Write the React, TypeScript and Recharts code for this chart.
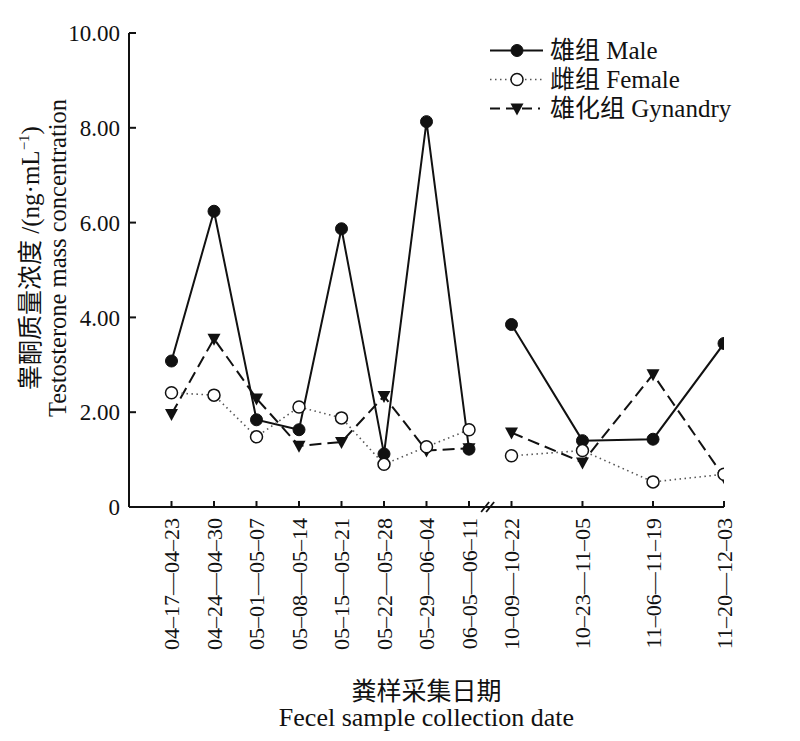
import React from 'react';
import { LineChart, Line, XAxis, YAxis, Legend, ReferenceDot } from 'recharts';

const FONT = "'Liberation Serif', 'Times New Roman', 'Noto Sans CJK SC', serif";
const INK = '#111';

// Categories (sample collection periods)
const categories = [
  '04–17—04–23', '04–24—04–30', '05–01—05–07', '05–08—05–14',
  '05–15—05–21', '05–22—05–28', '05–29—06–04', '06–05—06–11',
  '10–09—10–22', '10–23—11–05', '11–06—11–19', '11–20—12–03',
];
// Position of each period on the (broken) time axis
const xValues = [1, 2, 3, 4, 5, 6, 7, 8, 9, 10.67, 12.33, 14];
const firstPeriodCount = 8;
const axisBreakAt = 8.45;

// Testosterone mass concentration (ng·mL⁻¹)
const maleValues = [3.08, 6.24, 1.84, 1.63, 5.87, 1.12, 8.13, 1.22, 3.85, 1.40, 1.43, 3.45];
const femaleValues = [2.41, 2.36, 1.48, 2.11, 1.88, 0.90, 1.27, 1.63, 1.08, 1.19, 0.53, 0.69];
const gynandryValues = [1.96, 3.55, 2.29, 1.29, 1.37, 2.34, 1.19, 1.24, 1.57, 0.94, 2.80, 0.63];

const yTicks = [0, 2, 4, 6, 8, 10];
const seriesNames = ['雄组 Male', '雌组 Female', '雄化组 Gynandry'];

const rows = categories.map((label, i) => ({
  x: xValues[i],
  label,
  male: maleValues[i],
  female: femaleValues[i],
  gynandry: gynandryValues[i],
}));
const firstSegment = rows.slice(0, firstPeriodCount);
const secondSegment = rows.slice(firstPeriodCount);

const styles = {
  male: { stroke: INK, strokeWidth: 2, dash: undefined as string | undefined },
  female: { stroke: '#555', strokeWidth: 1.6, dash: '1.5 3.5' },
  gynandry: { stroke: INK, strokeWidth: 2, dash: '12 6' },
};

const MarkerShape = ({ kind, cx, cy }: { kind: string; cx: number; cy: number }) => {
  if (kind === 'male') return <circle cx={cx} cy={cy} r={6} fill={INK} stroke={INK} strokeWidth={1} />;
  if (kind === 'female') return <circle cx={cx} cy={cy} r={6} fill="#fff" stroke={INK} strokeWidth={1.5} />;
  return <path d={`M${cx - 6.5},${cy - 5} L${cx + 6.5},${cy - 5} L${cx},${cy + 7} Z`} fill={INK} />;
};

const makeDot = (kind: string) => (props: any) => {
  const { cx, cy, index } = props;
  if (cx == null || cy == null) return <g key={`${kind}-${index}`} />;
  return (
    <g key={`${kind}-${index}`}>
      <MarkerShape kind={kind} cx={cx} cy={cy} />
    </g>
  );
};

const XTick = (props: any) => {
  const { x, y, payload } = props;
  const idx = xValues.indexOf(payload.value);
  const label = categories[idx] ?? '';
  return (
    <g transform={`translate(${x},${y}) rotate(-90)`}>
      <text x={0} y={0} dy="0.36em" textAnchor="end" fontSize={22} fill={INK} fontFamily={FONT}>
        {label}
      </text>
    </g>
  );
};

const YLabel = (props: any) => {
  const vb = props.viewBox || { x: 0, y: 25, width: 121, height: 474 };
  const cy = vb.y + vb.height / 2 - 12;
  const x1 = vb.x + 22;
  const x2 = vb.x + 49;
  return (
    <g fontFamily={FONT} fill={INK}>
      <text transform={`translate(${x1},${cy}) rotate(-90)`} textAnchor="middle" dy="0.35em" fontSize={25}>
        睾酮质量浓度 /(ng·mL
        <tspan fontSize={15} dy={-10}>−1</tspan>
        <tspan dy={10}>)</tspan>
      </text>
      <text transform={`translate(${x2},${cy}) rotate(-90)`} textAnchor="middle" dy="0.35em" fontSize={24.5}>
        Testosterone mass concentration
      </text>
    </g>
  );
};

const XLabel = (props: any) => {
  const vb = props.viewBox || { x: 121, y: 499, width: 595, height: 226 };
  const cx = vb.x + vb.width / 2;
  return (
    <g fontFamily={FONT} fill={INK}>
      <text x={cx} y={vb.y + 193} textAnchor="middle" fontSize={25}>粪样采集日期</text>
      <text x={cx} y={vb.y + 219} textAnchor="middle" fontSize={26}>Fecel sample collection date</text>
    </g>
  );
};

const BreakMark = (props: any) => {
  const { cx, cy } = props;
  if (cx == null || cy == null) return <g />;
  return (
    <g stroke={INK} strokeWidth={1.8}>
      <line x1={cx - 7} y1={cy + 5} x2={cx + 1} y2={cy - 5} />
      <line x1={cx - 2} y1={cy + 5} x2={cx + 6} y2={cy - 5} />
    </g>
  );
};

const legendKinds = ['male', 'female', 'gynandry'];

const LegendContent = () => (
  <div style={{ fontFamily: FONT, fontSize: 25, color: INK }}>
    {seriesNames.map((name, i) => {
      const kind = legendKinds[i];
      const st = (styles as any)[kind];
      return (
        <div key={name} style={{ display: 'flex', alignItems: 'center', height: 29, whiteSpace: 'nowrap' }}>
          <svg width={58} height={29} style={{ display: 'block' }}>
            <line x1={2} y1={14.5} x2={i === 2 ? 52 : 55} y2={14.5} stroke={st.stroke} strokeWidth={st.strokeWidth} strokeDasharray={i === 2 ? '10 6' : st.dash} />
            <MarkerShape kind={kind} cx={29} cy={14.5} />
          </svg>
          <span style={{ marginLeft: 4, lineHeight: '29px' }}>{name}</span>
        </div>
      );
    })}
  </div>
);

export default function App() {
  const lineProps = (kind: 'male' | 'female' | 'gynandry', data: any[], seg: number) => ({
    data,
    dataKey: kind,
    type: 'linear' as const,
    stroke: styles[kind].stroke,
    strokeWidth: styles[kind].strokeWidth,
    strokeDasharray: styles[kind].dash,
    dot: makeDot(`${kind}${seg}`.replace(/\d$/, '') === kind ? kind : kind),
    activeDot: false,
    isAnimationActive: false,
    legendType: 'none' as const,
  });

  return (
    <div style={{ width: 784, height: 725 }}>
      <LineChart width={784} height={725} margin={{ top: 25, right: 68, bottom: 0, left: 0 }} data={rows}>
        <XAxis
          dataKey="x"
          type="number"
          domain={[0, 14]}
          ticks={xValues}
          interval={0}
          allowDataOverflow
          height={226}
          tickSize={-6}
          tickMargin={17}
          tick={<XTick />}
          axisLine={{ stroke: INK, strokeWidth: 2 }}
          tickLine={{ stroke: INK, strokeWidth: 2 }}
          label={<XLabel />}
        />
        <YAxis
          type="number"
          domain={[0, 10]}
          ticks={yTicks}
          interval={0}
          width={121}
          tickSize={-7}
          tickMargin={16}
          tickFormatter={(v: number) => (v === 0 ? '0' : v.toFixed(2))}
          tick={{ fill: INK, fontSize: 23, fontFamily: FONT }}
          axisLine={{ stroke: INK, strokeWidth: 2 }}
          tickLine={{ stroke: INK, strokeWidth: 2 }}
          label={<YLabel />}
        />
        <Legend
          layout="horizontal"
          verticalAlign="middle"
          align="center"
          content={<LegendContent />}
          wrapperStyle={{ left: 480, top: 28, width: 'auto', height: 'auto' }}
        />
        <Line key="male-1" {...lineProps('male', firstSegment, 1)} />
        <Line key="male-2" {...lineProps('male', secondSegment, 2)} />
        <Line key="gyn-1" {...lineProps('gynandry', firstSegment, 1)} />
        <Line key="gyn-2" {...lineProps('gynandry', secondSegment, 2)} />
        <Line key="female-1" {...lineProps('female', firstSegment, 1)} />
        <Line key="female-2" {...lineProps('female', secondSegment, 2)} />
        <ReferenceDot x={axisBreakAt} y={0} r={0} ifOverflow="visible" shape={<BreakMark />} />
      </LineChart>
    </div>
  );
}
